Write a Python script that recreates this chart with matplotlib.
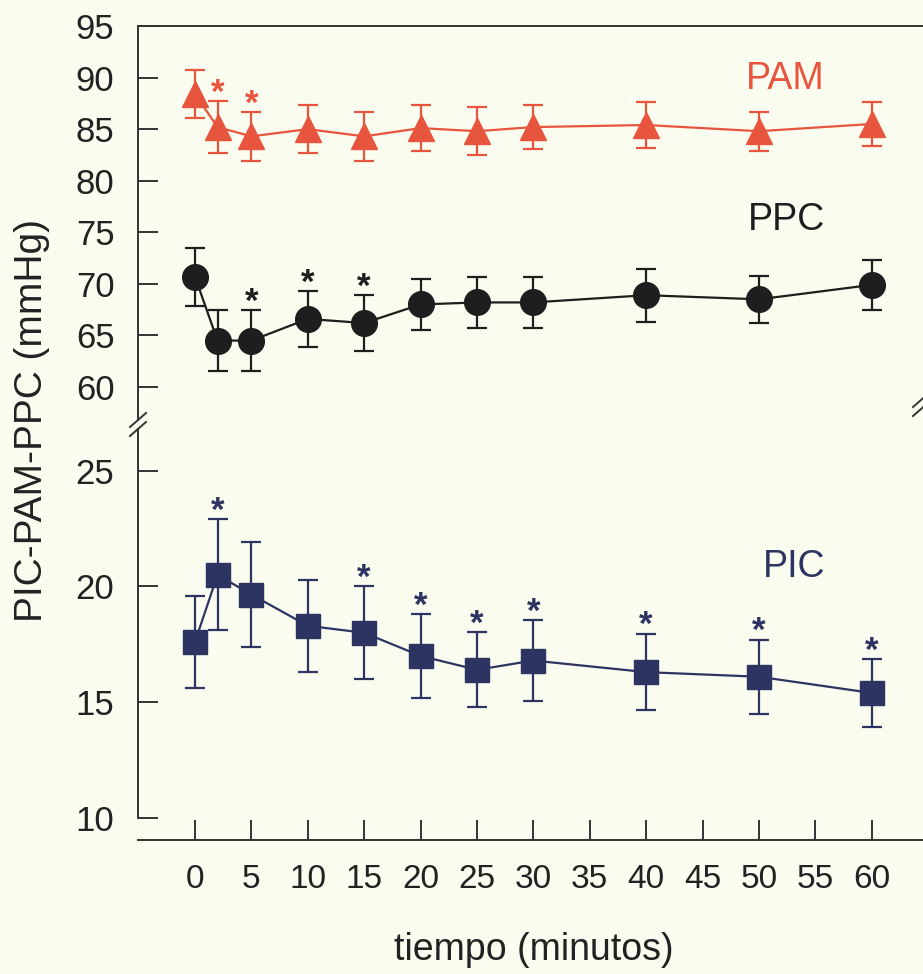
import matplotlib
matplotlib.use('Agg')
import matplotlib.pyplot as plt
from matplotlib.lines import Line2D

plt.rcParams['font.family'] = ['Liberation Sans', 'DejaVu Sans']

# ---------------- data ----------------
time_min = [0, 2, 5, 10, 15, 20, 25, 30, 40, 50, 60]

pam_mean = [88.4, 85.2, 84.3, 85.0, 84.3, 85.1, 84.8, 85.2, 85.4, 84.8, 85.5]
pam_sd = [2.3, 2.5, 2.35, 2.3, 2.35, 2.2, 2.3, 2.15, 2.25, 1.9, 2.15]

ppc_mean = [70.7, 64.5, 64.5, 66.6, 66.2, 68.0, 68.2, 68.2, 68.9, 68.5, 69.9]
ppc_sd = [2.8, 2.95, 2.95, 2.7, 2.7, 2.5, 2.45, 2.5, 2.55, 2.3, 2.4]

pic_mean = [17.6, 20.5, 19.65, 18.3, 18.0, 17.0, 16.4, 16.8, 16.3, 16.1, 15.4]
pic_sd = [2.0, 2.4, 2.25, 2.0, 2.0, 1.8, 1.62, 1.73, 1.65, 1.6, 1.45]

pam_sig = [2, 5]
ppc_sig = [5, 10, 15]
pic_sig = [2, 15, 20, 25, 30, 40, 50, 60]

x_ticks = [0, 5, 10, 15, 20, 25, 30, 35, 40, 45, 50, 55, 60]
upper_ticks = [60, 65, 70, 75, 80, 85, 90, 95]
lower_ticks = [10, 15, 20, 25]

series_names = ['PAM', 'PPC', 'PIC']
x_label = 'tiempo (minutos)'
y_label = 'PIC-PAM-PPC (mmHg)'

# ---------------- style ----------------
BG = '#F9FCEE'
RED = '#E8553E'
BLACK = '#1E1E1E'
NAVY = '#2E3462'
AXC = '#333333'
TXT = '#222222'

W, H = 923, 974
def fx(px):
    return px / W
def fy(py):
    return 1 - py / H

fig = plt.figure(figsize=(W / 100, H / 100), dpi=100, facecolor=BG)

left = fx(138)
ax_top = fig.add_axes([left, fy(420), 1 - left, fy(26) - fy(420)])
ax_bot = fig.add_axes([left, fy(818), 1 - left, fy(429) - fy(818)])

xlim = (-5.05, 64.54)

for ax in (ax_top, ax_bot):
    ax.set_facecolor(BG)
    ax.set_xlim(*xlim)
    for s in ax.spines.values():
        s.set_color(AXC)
        s.set_linewidth(1.4)
    ax.spines['right'].set_visible(False)

ax_top.set_ylim(56.8, 95)
ax_bot.set_ylim(10, 26.8)

ax_top.spines['bottom'].set_visible(False)
ax_bot.spines['top'].set_visible(False)
ax_bot.spines['bottom'].set_position(('outward', 15.8))

ax_top.set_yticks(upper_ticks)
ax_bot.set_yticks(lower_ticks)
ax_bot.set_xticks(x_ticks)
ax_bot.set_xticklabels([str(t) for t in x_ticks])

for ax in (ax_top, ax_bot):
    ax.tick_params(axis='y', direction='in', length=14.4, width=1.4,
                   labelsize=25, pad=17, color=AXC, labelcolor=TXT)
ax_top.tick_params(axis='x', bottom=False, labelbottom=False)
ax_bot.tick_params(axis='x', direction='in', length=14.4, width=1.4,
                   labelsize=24, pad=17, color=AXC, labelcolor=TXT)

ekw = dict(lw=1.6, elinewidth=1.6, capsize=7.5, capthick=1.6, clip_on=False)
ax_top.errorbar(time_min, pam_mean, yerr=pam_sd, color=RED, marker='^',
                ms=18.5, mec=RED, **ekw)
ax_top.errorbar(time_min, ppc_mean, yerr=ppc_sd, color=BLACK, marker='o',
                ms=18.5, mec=BLACK, **ekw)
ax_bot.errorbar(time_min, pic_mean, yerr=pic_sd, color=NAVY, marker='s',
                ms=17.5, mec=NAVY, **ekw)

def stars(ax, sig, mean, sd, color):
    for t in sig:
        i = time_min.index(t)
        ax.annotate('*', (t, mean[i] + sd[i]), xytext=(0, -1),
                    textcoords='offset points', ha='center', va='baseline',
                    fontsize=25, fontweight='bold', color=color)

stars(ax_top, pam_sig, pam_mean, pam_sd, RED)
stars(ax_top, ppc_sig, ppc_mean, ppc_sd, BLACK)
stars(ax_bot, pic_sig, pic_mean, pic_sd, NAVY)

ax_top.text(55.85, 88.9, series_names[0], color=RED, fontsize=27,
            ha='right', va='baseline')
ax_top.text(55.85, 75.2, series_names[1], color=BLACK, fontsize=27,
            ha='right', va='baseline')
ax_bot.text(55.85, 20.4, series_names[2], color=NAVY, fontsize=27,
            ha='right', va='baseline')

fig.text(fx(32), fy(420), y_label, rotation=90, ha='center', va='center',
         fontsize=28, color=TXT)
fig.text(fx(534), fy(960), x_label, ha='center', va='baseline',
         fontsize=27, color=TXT)

# axis break marks
def slash(x0, y0, x1, y1):
    fig.add_artist(Line2D([fx(x0), fx(x1)], [fy(y0), fy(y1)],
                          transform=fig.transFigure, color=AXC, lw=1.4))

slash(130, 427, 146, 413)
slash(130, 436, 146, 422)
slash(913, 407, 929, 393)
slash(913, 416, 929, 402)

fig.savefig('out.png', dpi=100, facecolor=BG)
